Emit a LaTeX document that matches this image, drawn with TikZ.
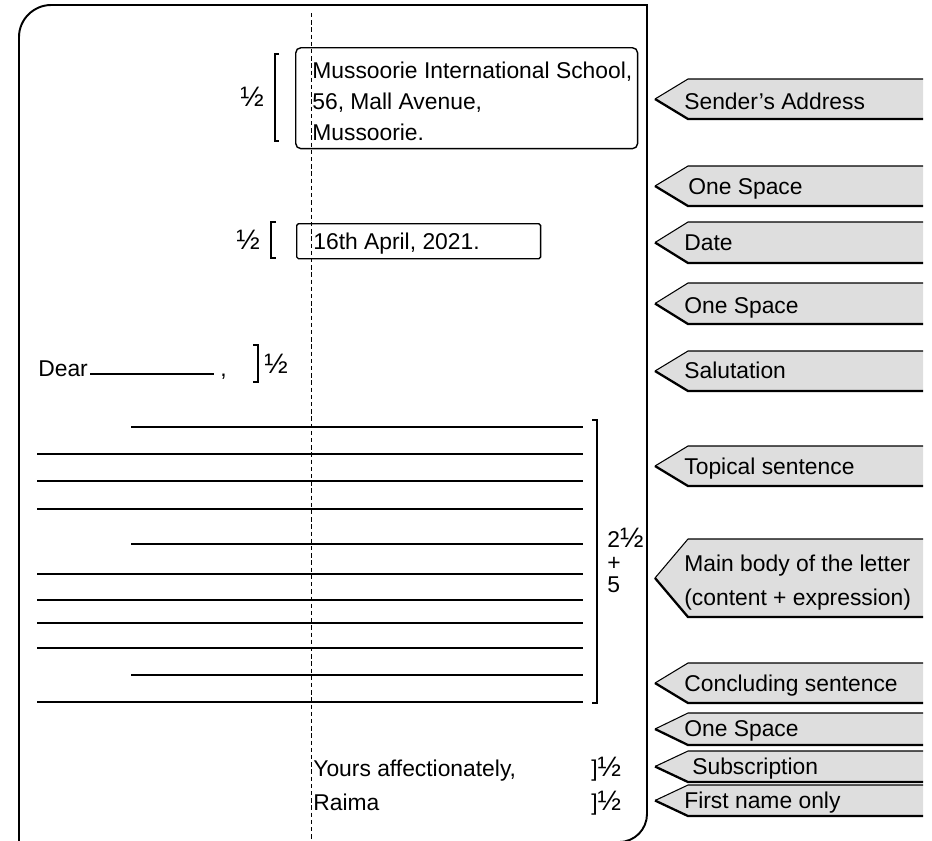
\documentclass[tikz,border=0pt]{standalone}
\usepackage{fontspec}
\setmainfont{Liberation Sans}
\usetikzlibrary{positioning}
\tikzstyle{page} = [line width=1.1pt]
\tikzstyle{guide} = [line width=0.5pt, dash pattern=on 2.5pt off 1.6pt]
\tikzstyle{addrbox} = [draw, line width=0.8pt, rounded corners=3pt, minimum width=6.84cm, minimum height=2.02cm, anchor=north west]
\tikzstyle{datebox} = [draw, line width=0.8pt, rounded corners=1pt, minimum width=4.88cm, minimum height=0.7cm, anchor=north west]
\tikzstyle{bracket} = [line width=0.7pt]
\tikzstyle{writeline} = [line width=1.1pt]
\tikzstyle{txt} = [anchor=west, text height=9.3pt, text depth=0pt]
\tikzstyle{tagfill} = [fill=black!13]
\tikzstyle{tagthin} = [line width=0.6pt]
\tikzstyle{tagthick} = [line width=1.3pt]
\tikzstyle{every node}=[font=\fontsize{13}{17.6}\selectfont, inner sep=0pt]
\newcommand{\half}{{\fontsize{16}{16}\selectfont ½}}

% tag pointing left: top y, bottom y, name of its tip
\newcommand{\labeltag}[3]{%
  \fill[tagfill] (655,{(#1+#2)/2}) -- (688,#1) -- (923,#1) -- (923,#2) -- (688,#2) -- cycle;
  \draw[tagthin] (923,#1) -- (688,#1) -- (655,{(#1+#2)/2});
  \draw[tagthick] (655,{(#1+#2)/2}) -- (688,#2) -- (923,#2);
  \coordinate (#3) at (655,{(#1+#2)/2});
}

\begin{document}
\begin{tikzpicture}[x=0.02cm, y=-0.02cm]
	\useasboundingbox (0,0) rectangle (932,840);

	%page and centre line
	\draw[page] (19,850) -- (19,37) .. controls (19,19) and (34,5) .. (51,5) -- (647,5) -- (647,814) .. controls (647,829) and (635,842) .. (619,842) -- (19,842);
	\draw[guide] (311,13) -- (311,842);

	%sender's address
	\node (senderbox) [addrbox] at (295,47) {};
	\node (addr1) [txt] at (312,70) {Mussoorie International School,};
	\node (addr2) [txt] at (312,101) {56, Mall Avenue,};
	\node (addr3) [txt] at (312,132) {Mussoorie.};
	\draw[bracket] (279,54) -- (275,54) -- (275,141) -- (279,141);
	\node (addrhalf) [txt] at (240,98) {\half};

	%date
	\node (datebox) [datebox] at (296,223) {};
	\node (date) [txt] at (313,241) {16th April, 2021.};
	\draw[bracket] (276,222) -- (271,222) -- (271,258) -- (276,258);
	\node (datehalf) [txt] at (236,241) {\half};

	%salutation
	\node (dear) [txt] at (38,368) {Dear};
	\draw[writeline] (90,374) -- (214,374);
	\node (comma) [txt] at (220,368) {,};
	\draw[bracket] (253,345) -- (258,345) -- (258,382) -- (253,382);
	\node (dearhalf) [txt] at (264,365) {\half};

	%body of the letter
	\draw[writeline] (131,427) -- (583,427);
	\draw[writeline] (37,454) -- (583,454);
	\draw[writeline] (37,481) -- (583,481);
	\draw[writeline] (37,509) -- (583,509);
	\draw[writeline] (131,544) -- (583,544);
	\draw[writeline] (37,574) -- (583,574);
	\draw[writeline] (37,600) -- (583,600);
	\draw[writeline] (37,623) -- (583,623);
	\draw[writeline] (37,648) -- (583,648);
	\draw[writeline] (131,675) -- (583,675);
	\draw[writeline] (37,702) -- (583,702);
	\draw[bracket] (592,420) -- (597,420) -- (597,703) -- (592,703);
	\node (bodymark1) [txt] at (607,539) {2\half};
	\node (bodymark2) [txt] at (607,562) {+};
	\node (bodymark3) [txt] at (607,584) {5};

	%subscription
	\node (yours) [txt] at (313,768) {Yours affectionately,};
	\node (raima) [txt] at (313,802) {Raima};
	\node (yourshalf) [txt] at (591,768) {]\half};
	\node (raimahalf) [txt] at (591,802) {]\half};

	%tags on the right
	\labeltag{79}{119}{tagsender}
	\labeltag{166}{206}{tagspaceA}
	\labeltag{222}{263}{tagdate}
	\labeltag{283}{324}{tagspaceB}
	\labeltag{351}{391}{tagsalute}
	\labeltag{446}{486}{tagtopic}
	\labeltag{539}{617}{tagbody}
	\labeltag{663}{703}{tagconclude}
	\labeltag{713}{745}{tagspaceC}
	\labeltag{751}{782}{tagsubscr}
	\labeltag{785}{816}{tagname}
	\node (sendertxt) [txt] at (684,101) {Sender's Address};
	\node (spaceAtxt) [txt] at (688,186) {One Space};
	\node (datetxt) [txt] at (684,242) {Date};
	\node (spaceBtxt) [txt] at (684,305) {One Space};
	\node (salutetxt) [txt] at (684,370) {Salutation};
	\node (topictxt) [txt] at (684,466) {Topical sentence};
	\node (bodytxt1) [txt] at (684,563) {Main body of the letter};
	\node (bodytxt2) [txt] at (684,597) {(content + expression)};
	\node (concludetxt) [txt] at (684,683) {Concluding sentence};
	\node (spaceCtxt) [txt] at (684,728) {One Space};
	\node (subscrtxt) [txt] at (692,766) {Subscription};
	\node (nametxt) [txt] at (684,800) {First name only};
\end{tikzpicture}
\end{document}
